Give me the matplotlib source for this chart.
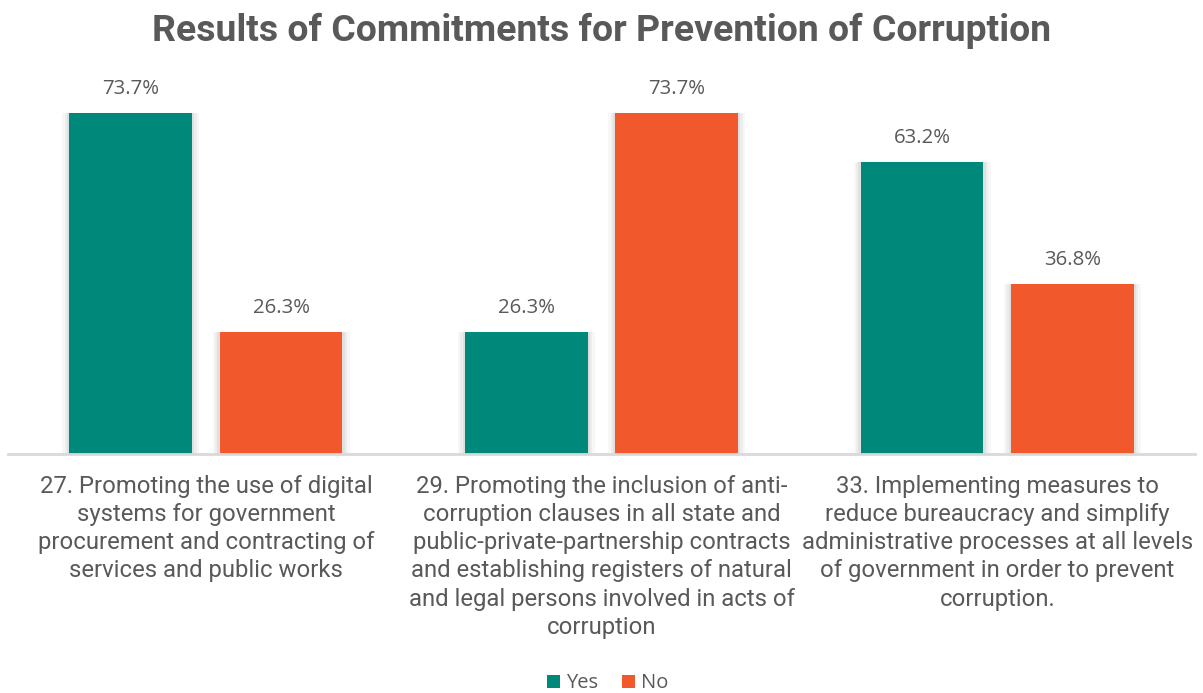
import matplotlib
matplotlib.use("Agg")
import matplotlib.pyplot as plt
import numpy as np
from matplotlib.patches import Patch

# Data
categories = [
    "27. Promoting the use of digital\nsystems for government\nprocurement and contracting of\nservices and public works",
    "29. Promoting the inclusion of anti-\ncorruption clauses in all state and\npublic-private-partnership contracts\nand establishing registers of natural\nand legal persons involved in acts of\ncorruption",
    "33. Implementing measures to\nreduce bureaucracy and simplify\nadministrative processes at all levels\nof government in order to prevent\ncorruption.",
]
yes_values = [73.7, 26.3, 63.2]
no_values = [26.3, 73.7, 36.8]
series_names = ["Yes", "No"]

TEAL = "#00897B"
ORANGE = "#F1582C"
GRAY = "#595959"

fig = plt.figure(figsize=(12.03, 6.93), dpi=100)
ax = fig.add_axes([0.0067, 0.345, 0.9867, 0.534])

x = np.arange(len(categories))
width = 0.31
offset = 0.19

for vals, color, sign in [(yes_values, TEAL, -1), (no_values, ORANGE, 1)]:
    pos = x + sign * offset
    # soft shadow
    for k, a in enumerate([0.05, 0.04, 0.03]):
        ax.bar(pos, vals, width=width + 0.012 * (k + 1), color="black",
               alpha=a, zorder=1, linewidth=0)
    ax.bar(pos, vals, width=width, color=color, zorder=2, linewidth=0)
    for p, v in zip(pos, vals):
        ax.text(p, v + 3.0, f"{v:.1f}%", ha="center", va="bottom",
                fontsize=14.7, color=GRAY, family="Open Sans")

ax.set_xlim(-0.5, 2.5)
ax.set_ylim(0, 80)
ax.set_yticks([])
for s in ["top", "right", "left"]:
    ax.spines[s].set_visible(False)
ax.spines["bottom"].set_color("#D9D9D9")
ax.spines["bottom"].set_linewidth(2)
ax.set_xticks(x)
ax.set_xticklabels(categories, fontsize=17.2, color=GRAY, family="Roboto",
                   linespacing=1.29, va="top")
ax.tick_params(axis="x", length=0, pad=15)

fig.text(0.5, 0.955, "Results of Commitments for Prevention of Corruption",
         ha="center", va="center", fontsize=26.9, fontweight="bold",
         color=GRAY, family="Roboto")

handles = [Patch(facecolor=TEAL, label=series_names[0]),
           Patch(facecolor=ORANGE, label=series_names[1])]
fig.legend(handles=handles, loc="center", bbox_to_anchor=(0.505, 0.014),
           ncol=2, frameon=False, prop={"family": "Open Sans", "size": 14.5},
           labelcolor=GRAY, handlelength=0.65, handleheight=0.65,
           handletextpad=0.3, columnspacing=1.2)

fig.savefig("out.png", dpi=100)
